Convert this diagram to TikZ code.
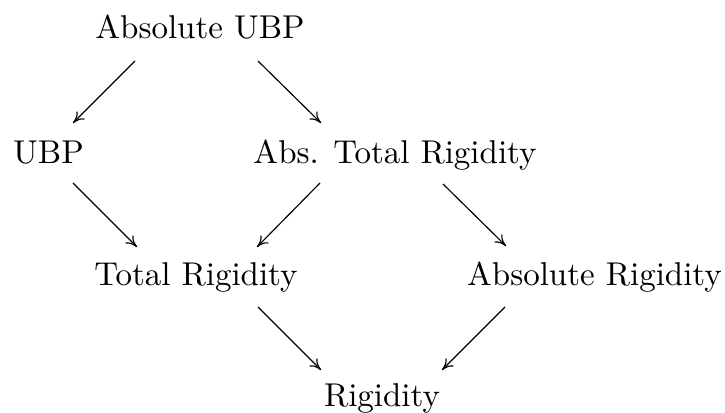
\documentclass[tikz,border=0pt]{standalone}
\usetikzlibrary{calc,arrows.meta}
\begin{document}
\begin{tikzpicture}[x=0.30303pt,y=-0.30303pt,
  lbl/.style={anchor=base,inner sep=0pt,font=\normalsize},
  arr/.style={-{To[length=3.4pt,width=3.4pt]},line width=0.35pt}]
\useasboundingbox (0,0) rectangle (725,412);
\node[lbl] (aubp) at (200,38) {Absolute UBP};
\node[lbl] (ubp) at (48.5,163) {UBP};
\node[lbl] (atr) at (395,163) {Abs. Total Rigidity};
\node[lbl] (tr) at (196,285) {Total Rigidity};
\node[lbl] (ar) at (594.5,285) {Absolute Rigidity};
\node[lbl] (rig) at (382,406) {Rigidity};
\draw[arr] ($(aubp.base)+(-65,23)$) -- ($(ubp.base)+(24.5,-40)$);
\draw[arr] ($(aubp.base)+(58,23)$) -- ($(atr.base)+(-74,-40)$);
\draw[arr] ($(ubp.base)+(24.5,20)$) -- ($(tr.base)+(-59,-38)$);
\draw[arr] ($(atr.base)+(-75,20)$) -- ($(tr.base)+(61,-38)$);
\draw[arr] ($(atr.base)+(48,21)$) -- ($(ar.base)+(-88.5,-39)$);
\draw[arr] ($(tr.base)+(62,22)$) -- ($(rig.base)+(-61,-36)$);
\draw[arr] ($(ar.base)+(-89.5,22)$) -- ($(rig.base)+(60,-36)$);
\end{tikzpicture}
\end{document}
